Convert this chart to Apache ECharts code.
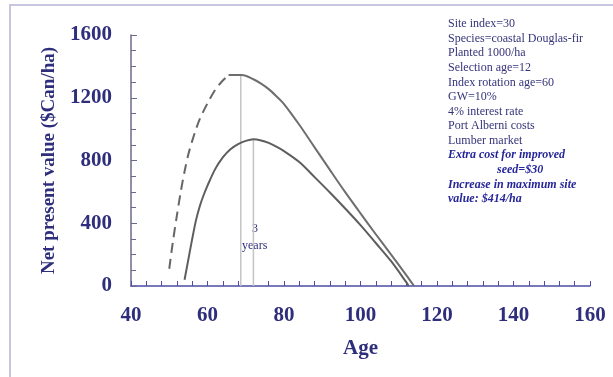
<!DOCTYPE html>
<html>
<head>
<meta charset="utf-8">
<script src="https://cdn.jsdelivr.net/npm/echarts@6/dist/echarts.min.js"></script>
<style>html,body{margin:0;padding:0;background:#fff}#c{width:613px;height:377px}</style>
</head>
<body>
<div id="c"></div>
<script>
// ---- data ----
var xTicks = [40, 60, 80, 100, 120, 140, 160];
var yTicks = [0, 400, 800, 1200, 1600];
// improved seed (dashed rising part)
var upperDashAges   = [50, 51, 52, 53, 54, 55, 56, 57, 58, 60, 62, 64, 65.5];
var upperDashValues = [110, 290, 450, 600, 730, 840, 925, 1000, 1065, 1165, 1250, 1310, 1345];
// improved seed (solid part)
var upperAges   = [65.5, 69, 72, 74, 76, 78, 80, 84, 88, 92, 96, 100, 104, 108, 112, 114];
var upperValues = [1345, 1345, 1318, 1290, 1255, 1210, 1160, 1028, 884, 740, 598, 463, 330, 200, 68, 0];
// unimproved seed
var lowerAges   = [54, 55, 56, 57, 58, 59, 60, 62, 64, 66, 68, 70, 72, 74, 76, 78, 80, 84, 88, 92, 96, 100, 104, 108, 112, 112.6];
var lowerValues = [40, 170, 300, 420, 510, 580, 640, 745, 820, 872, 905, 925, 935, 928, 912, 888, 860, 790, 694, 596, 494, 388, 274, 158, 23, 0];
// optimal rotation ages (peaks)
var peakAges   = [68.7, 72];
var peakValues = [1345, 935];
var gapLabel = ['3', 'years'];
var notes = [
  'Site index=30',
  'Species=coastal Douglas-fir',
  'Planted 1000/ha',
  'Selection age=12',
  'Index rotation age=60',
  'GW=10%',
  '4% interest rate',
  'Port Alberni costs',
  'Lumber market'
];
var notesEmph = ['Extra cost for improved', 'seed=$30', 'Increase in maximum site', 'value: $414/ha'];
var xName = 'Age';
var yName = 'Net present value ($Can/ha)';

function pairs(a, b) { return a.map(function (v, i) { return [v, b[i]]; }); }

var navy = '#2e2e7c';
var serif = '"Liberation Serif", "DejaVu Serif", serif';

var graphics = [
  { type: 'rect', shape: { x: 10, y: 5, width: 700, height: 500 }, style: { fill: 'none', stroke: '#c6c6de', lineWidth: 2 }, silent: true }
];
notes.forEach(function (t, i) {
  graphics.push({ type: 'text', left: 448, top: 18 + i * 14.6,
    style: { text: t, font: '12px ' + serif, fill: '#34347a' } });
});
var emphX = [448, 497, 448, 448];
notesEmph.forEach(function (t, i) {
  graphics.push({ type: 'text', left: emphX[i], top: 18 + (notes.length + i) * 14.6,
    style: { text: t, font: 'italic bold 12px ' + serif, fill: '#26269a' } });
});
graphics.push({ type: 'text', left: 252, top: 223, style: { text: gapLabel[0], font: '12px ' + serif, fill: navy } });
graphics.push({ type: 'text', left: 242, top: 240, style: { text: gapLabel[1], font: '12px ' + serif, fill: navy } });

var series = [];
peakAges.forEach(function (a, i) {
  series.push({ type: 'line', data: [[a, 0], [a, peakValues[i]]], symbol: 'none', silent: true,
    lineStyle: { color: '#c4c4c4', width: 1.5 }, z: 1 });
});
series.push({ type: 'line', data: pairs(upperDashAges, upperDashValues), symbol: 'none', smooth: 0.3,
  lineStyle: { color: '#666666', width: 2, type: [10, 6] }, z: 3 });
series.push({ type: 'line', data: pairs(upperAges, upperValues), symbol: 'none', smooth: 0.3,
  lineStyle: { color: '#6e6e6e', width: 2 }, z: 3 });
series.push({ type: 'line', data: pairs(lowerAges, lowerValues), symbol: 'none', smooth: 0.3,
  lineStyle: { color: '#5e5e5e', width: 2 }, z: 3 });

var chart = echarts.init(document.getElementById('c'), null, { renderer: 'canvas' });
chart.setOption({
  animation: false,
  backgroundColor: '#ffffff',
  grid: { left: 131, right: 23, top: 35, bottom: 91 },
  xAxis: {
    type: 'value', min: xTicks[0], max: xTicks[xTicks.length - 1], interval: 20,
    name: xName, nameLocation: 'middle', nameGap: 52,
    nameTextStyle: { fontFamily: serif, fontWeight: 'bold', fontSize: 21, color: navy },
    axisLine: { lineStyle: { color: '#4c4ca6', width: 1.5 } },
    axisTick: { inside: true, length: 5, lineStyle: { color: '#4c4ca6' } },
    minorTick: { show: true, splitNumber: 5, length: 5, lineStyle: { color: '#4c4ca6' } },
    splitLine: { show: false },
    axisLabel: { fontFamily: serif, fontWeight: 'bold', fontSize: 21, color: navy, margin: 19,
      formatter: function (v) { return String(v); } }
  },
  yAxis: {
    type: 'value', min: yTicks[0], max: yTicks[yTicks.length - 1], interval: 400,
    name: yName, nameLocation: 'middle', nameGap: 72,
    nameTextStyle: { fontFamily: serif, fontWeight: 'bold', fontSize: 19, color: navy },
    axisLine: { show: true, lineStyle: { color: '#6a6a8e', width: 1.5 } },
    axisTick: { show: true, inside: true, length: 6, lineStyle: { color: '#6a6a8e' } },
    minorTick: { show: true, splitNumber: 4, length: 5, lineStyle: { color: '#6a6a8e' } },
    splitLine: { show: false },
    axisLabel: { fontFamily: serif, fontWeight: 'bold', fontSize: 21, color: navy, margin: 19,
      formatter: function (v) { return String(v); } }
  },
  graphic: graphics,
  series: series
});
</script>
</body>
</html>
